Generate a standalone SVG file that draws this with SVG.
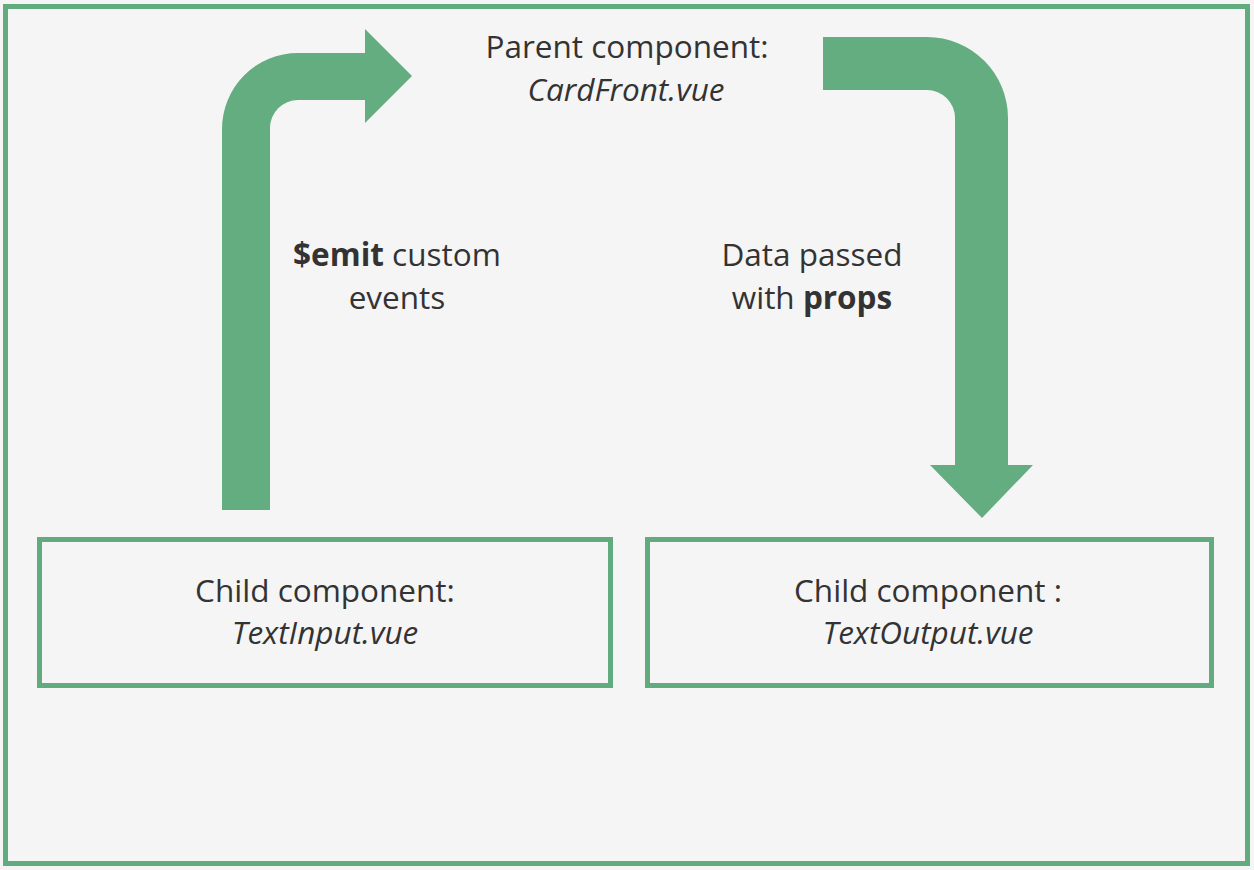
<svg xmlns="http://www.w3.org/2000/svg" width="1254" height="870" viewBox="0 0 1254 870">
<style>
.frame{fill:none;stroke:#62ab7e;stroke-width:5}
.arrow{fill:#64ad80;stroke:none}
.t{font-family:"Open Sans","Liberation Sans",sans-serif;font-size:31.5px;fill:#333;text-anchor:middle}
.i{font-style:italic}
.b{font-weight:bold}
</style>
<rect x="0" y="0" width="1254" height="870" fill="#f5f5f5"/>
<rect id="outer" class="frame" x="5.5" y="6.5" width="1242" height="857"/>
<g id="connectors">
<path id="emit-arrow" class="arrow" d="M222,510 L222,129 A76,76 0 0 1 298,53 L365,53 L365,29 L412,76 L365,123 L365,100 L298,100 A28,28 0 0 0 270,128 L270,510 Z"/>
<path id="props-arrow" class="arrow" d="M823,37 L927,37 A81,81 0 0 1 1008,118 L1008,465 L1033,465 L982,518 L930,465 L955,465 L955,118 A28,28 0 0 0 927,90 L823,90 Z"/>
</g>
<g id="parent">
<text class="t" x="627" y="58">Parent component:</text>
<text class="t i" x="626" y="101">CardFront.vue</text>
</g>
<g id="emit-label">
<text class="t" x="397" y="266"><tspan class="b">$emit</tspan> custom</text>
<text class="t" x="397" y="309">events</text>
</g>
<g id="props-label">
<text class="t" x="812" y="266">Data passed</text>
<text class="t" x="812" y="309">with <tspan class="b">props</tspan></text>
</g>
<g id="text-input">
<rect class="frame" x="39.5" y="539.5" width="571" height="146"/>
<text class="t" x="325" y="602">Child component:</text>
<text class="t i" x="325" y="644">TextInput.vue</text>
</g>
<g id="text-output">
<rect class="frame" x="647.5" y="539.5" width="564" height="146"/>
<text class="t" x="928" y="602">Child component :</text>
<text class="t i" x="928" y="644">TextOutput.vue</text>
</g>
</svg>
